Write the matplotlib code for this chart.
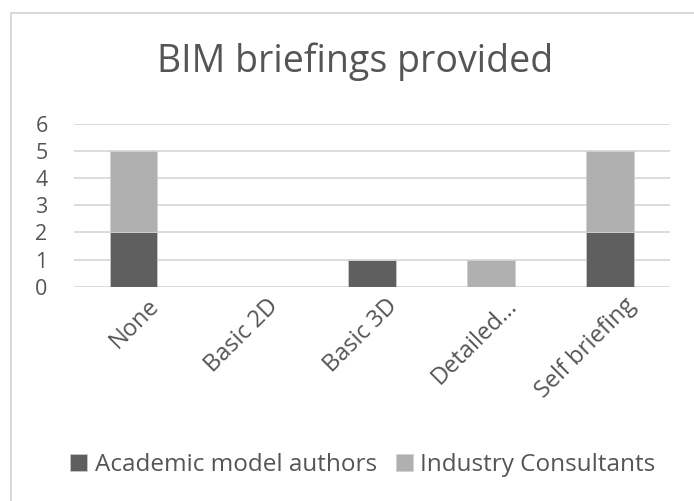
import numpy as np
import matplotlib
matplotlib.use("Agg")
import matplotlib.pyplot as plt
import matplotlib.transforms as mtransforms
from matplotlib.patches import Rectangle

# data
categories = ["None", "Basic 2D", "Basic 3D", "Detailed...", "Self briefing"]
academic = [2, 0, 1, 0, 2]
industry = [3, 0, 0, 1, 3]
series_names = ["Academic model authors", "Industry Consultants"]
yticks = [0, 1, 2, 3, 4, 5, 6]

plt.rcParams['font.family'] = ['Open Sans', 'DejaVu Sans']
text_col = '#555555'

fig = plt.figure(figsize=(6.94, 5.01), dpi=100)

# chart frame (light grey border, runs off right/bottom edge)
fig.patches.append(Rectangle((11 / 694, -0.05), 1.1, 1 - 13 / 501 + 0.05,
                             transform=fig.transFigure, fill=False,
                             edgecolor='#d9d9d9', linewidth=1.5))

ax = fig.add_axes([74 / 694, 1 - 286.7 / 501, (669.5 - 74) / 694, (286.7 - 124) / 501])
x = np.arange(len(categories))
ax.bar(x, academic, width=0.4, color='#5f5f5f', edgecolor='#c8c8c8', linewidth=0.6,
       label=series_names[0], zorder=3)
ax.bar(x, industry, width=0.4, bottom=academic, color='#b0b0b0', edgecolor='#d0d0d0',
       linewidth=0.6, label=series_names[1], zorder=3)

ax.set_xlim(-0.5, len(categories) - 0.5)
ax.set_ylim(0, 6)
ax.set_yticks(yticks)
ax.yaxis.grid(True, color='#d9d9d9', linewidth=1.3, zorder=0)
for s in ax.spines.values():
    s.set_visible(False)
ax.tick_params(axis='both', length=0, colors=text_col, labelsize=15.5)
ax.tick_params(axis='y', pad=19)
ax.set_xticks(x)
ax.set_xticklabels(categories, rotation=45, ha='right', va='top', rotation_mode='anchor',
                   fontsize=17)
ax.tick_params(axis='x', pad=5)
shift = mtransforms.ScaledTranslation(14 / 100, 0, fig.dpi_scale_trans)
for lab in ax.get_xticklabels():
    lab.set_transform(lab.get_transform() + shift)

fig.text(355 / 694, 1 - 62 / 501, "BIM briefings provided", ha='center', va='center',
         fontsize=27, color=text_col)

fig.legend(loc='center', bbox_to_anchor=(363 / 694, 1 - 465 / 501), ncol=2,
           frameon=False, fontsize=17.5, labelcolor=text_col, handlelength=0.7,
           handleheight=0.7, handletextpad=0.3, columnspacing=0.8)

fig.savefig("out.png", dpi=100)
